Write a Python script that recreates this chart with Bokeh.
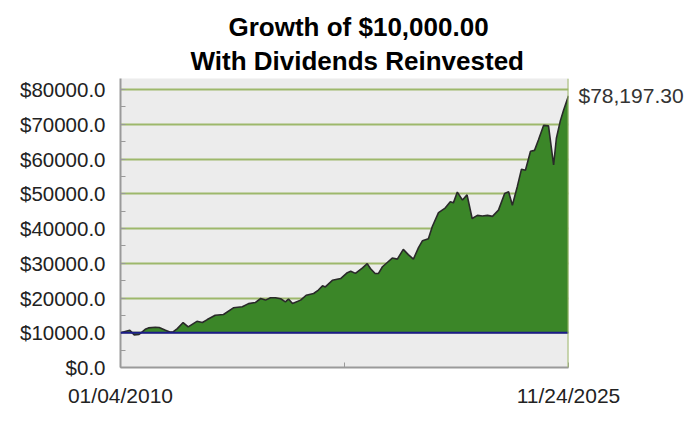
import pandas as pd
from bokeh.plotting import figure
from bokeh.models import Range1d, FixedTicker, Span, Title, ColumnDataSource, LinearAxis
from bokeh.embed import file_html
from bokeh.resources import INLINE

# ---- data ----
dates = [
    "2010-01-04", "2010-05-05", "2010-07-01", "2010-09-01", "2010-11-20",
    "2011-01-01", "2011-03-30", "2011-05-20", "2011-08-10", "2011-10-05",
    "2011-11-20", "2012-01-10", "2012-03-25", "2012-05-30", "2012-09-20",
    "2012-11-30", "2013-02-01", "2013-05-15", "2013-08-30", "2014-01-05",
    "2014-05-01", "2014-07-20", "2014-10-15", "2014-12-25", "2015-02-25",
    "2015-05-01", "2015-07-05", "2015-09-10", "2015-11-10", "2015-12-20",
    "2016-02-10", "2016-05-25", "2016-08-05", "2016-11-10", "2017-01-10",
    "2017-03-05", "2017-04-10", "2017-07-10", "2017-10-25", "2018-01-20",
    "2018-03-05", "2018-05-05", "2018-08-05", "2018-10-05", "2018-11-15",
    "2019-01-15", "2019-02-28", "2019-04-20", "2019-06-25", "2019-08-25",
    "2019-10-30", "2020-01-15", "2020-03-20", "2020-05-25", "2020-07-30",
    "2020-09-20", "2020-12-05", "2021-01-25", "2021-04-15", "2021-07-10",
    "2021-09-15", "2021-10-25", "2021-12-15", "2022-02-20", "2022-04-20",
    "2022-06-25", "2022-09-01", "2022-11-05", "2023-01-10", "2023-03-15",
    "2023-06-01", "2023-08-20", "2023-10-10", "2023-11-28", "2024-02-01",
    "2024-03-25", "2024-05-15", "2024-07-20", "2024-09-10", "2024-10-30",
    "2025-01-05", "2025-03-10", "2025-05-15", "2025-06-20", "2025-08-10",
    "2025-09-20", "2025-11-24",
]
values = [
    10000, 10700, 9400, 9500, 11000,
    11400, 11600, 11500, 10700, 10200,
    10300, 11200, 12950, 11700, 13300,
    12950, 13800, 15050, 15250, 17180,
    17470, 18400, 18700, 19860, 19400,
    20100, 20100, 19800, 18900, 19700,
    18400, 19400, 20800, 21300, 22300,
    23500, 23200, 25100, 25600, 27300,
    27700, 27100, 28700, 29900, 28500,
    27050, 27100, 29000, 30300, 31500,
    31200, 34000, 32500, 31200, 34500,
    36500, 37100, 40600, 44600, 45900,
    47700, 47400, 50500, 48200, 49700,
    42900, 43800, 43600, 43800, 43500,
    45300, 50100, 50600, 46700, 52200,
    57100, 56800, 62250, 62500, 65500,
    69700, 69550, 58300, 66000, 71000,
    74000, 78197.30,
]
initial_investment = 10000
final_value_label = "$78,197.30"
y_ticks = [0, 10000, 20000, 30000, 40000, 50000, 60000, 70000, 80000]
y_tick_labels = ["$0.0", "$10000.0", "$20000.0", "$30000.0", "$40000.0",
                 "$50000.0", "$60000.0", "$70000.0", "$80000.0"]
y_minor_ticks = [5000, 15000, 25000, 35000, 45000, 55000, 65000, 75000]
x_tick_labels = ["01/04/2010", "", "11/24/2025"]
title_lines = ["Growth of $10,000.00", "With Dividends Reinvested"]

# ---- build ----
x = pd.to_datetime(dates)
t0 = x[0].value / 1e6
t1 = x[-1].value / 1e6
tmid = (t0 + t1) / 2.0
x_ticks = [t0, tmid, t1]

src = ColumnDataSource(dict(x=x, y=values, base=[initial_investment] * len(values)))

FONT = "Liberation Sans"
GRID = "#9db86b"
AXIS = "#9a9a9a"

p = figure(frame_width=448, frame_height=289, x_axis_type="datetime",
           output_backend="svg", toolbar_location=None, title=None,
           min_border_left=120, min_border_right=124, min_border_top=10,
           min_border_bottom=39,
           x_range=Range1d(t0, t1), y_range=Range1d(0, 83200))
p.background_fill_color = "#ececec"
p.border_fill_color = "white"
p.outline_line_color = None

# titles: added bottom-up (line 2, line 1, spacer)
p.add_layout(Title(text=title_lines[1], align="left", offset=70, text_font=FONT,
                   text_font_size="26px", text_font_style="bold",
                   text_color="#000000", standoff=5), "above")
p.add_layout(Title(text=title_lines[0], align="left", offset=108, text_font=FONT,
                   text_font_size="26px", text_font_style="bold",
                   text_color="#000000", standoff=0), "above")
p.add_layout(Title(text=" ", text_font=FONT, text_font_size="7px", standoff=0), "above")

# grid
p.xgrid.visible = False
p.ygrid.grid_line_color = GRID
p.ygrid.grid_line_width = 2

# y axis
p.yaxis.ticker = FixedTicker(ticks=y_ticks, minor_ticks=y_minor_ticks)
p.yaxis.major_label_overrides = {t: l for t, l in zip(y_ticks, y_tick_labels)}
p.yaxis.axis_line_color = AXIS
p.yaxis.axis_line_width = 2
p.yaxis.major_tick_in = 5
p.yaxis.major_tick_out = 0
p.yaxis.minor_tick_in = 5
p.yaxis.minor_tick_out = 0
p.yaxis.major_tick_line_color = AXIS
p.yaxis.minor_tick_line_color = AXIS
p.yaxis.major_label_text_font = FONT
p.yaxis.major_label_text_font_size = "20.5px"
p.yaxis.major_label_text_color = "#222222"
p.yaxis.major_label_standoff = 15

# x axis
p.xaxis.ticker = FixedTicker(ticks=x_ticks)
p.xaxis.major_label_overrides = {t: l for t, l in zip(x_ticks, x_tick_labels)}
p.xaxis.axis_line_color = AXIS
p.xaxis.axis_line_width = 2
p.xaxis.major_tick_in = 5
p.xaxis.major_tick_out = 0
p.xaxis.minor_tick_line_color = None
p.xaxis.major_tick_line_color = AXIS
p.xaxis.major_label_text_font = FONT
p.xaxis.major_label_text_font_size = "21px"
p.xaxis.major_label_text_color = "#222222"
p.xaxis.major_label_standoff = 16

# right axis carrying only the final value label
right = LinearAxis(ticker=FixedTicker(ticks=[values[-1]]),
                   major_label_overrides={values[-1]: final_value_label},
                   axis_line_color=None, major_tick_line_color=None,
                   minor_tick_line_color=None, major_label_standoff=4,
                   major_label_text_font=FONT, major_label_text_font_size="21px",
                   major_label_text_color="#333333")
p.add_layout(right, "right")

# area + line
p.varea(x="x", y1="base", y2="y", source=src, fill_color="#3b8628")
p.line(x="x", y="y", source=src, line_color="#2a2a2a", line_width=1.6)

# baseline at initial investment
p.add_layout(Span(location=initial_investment, dimension="width",
                  line_color="#1b1b8a", line_width=2))
# right edge line
p.add_layout(Span(location=t1, dimension="height", line_color=GRID, line_width=2))

open("out.html", "w").write(file_html(p, INLINE))
